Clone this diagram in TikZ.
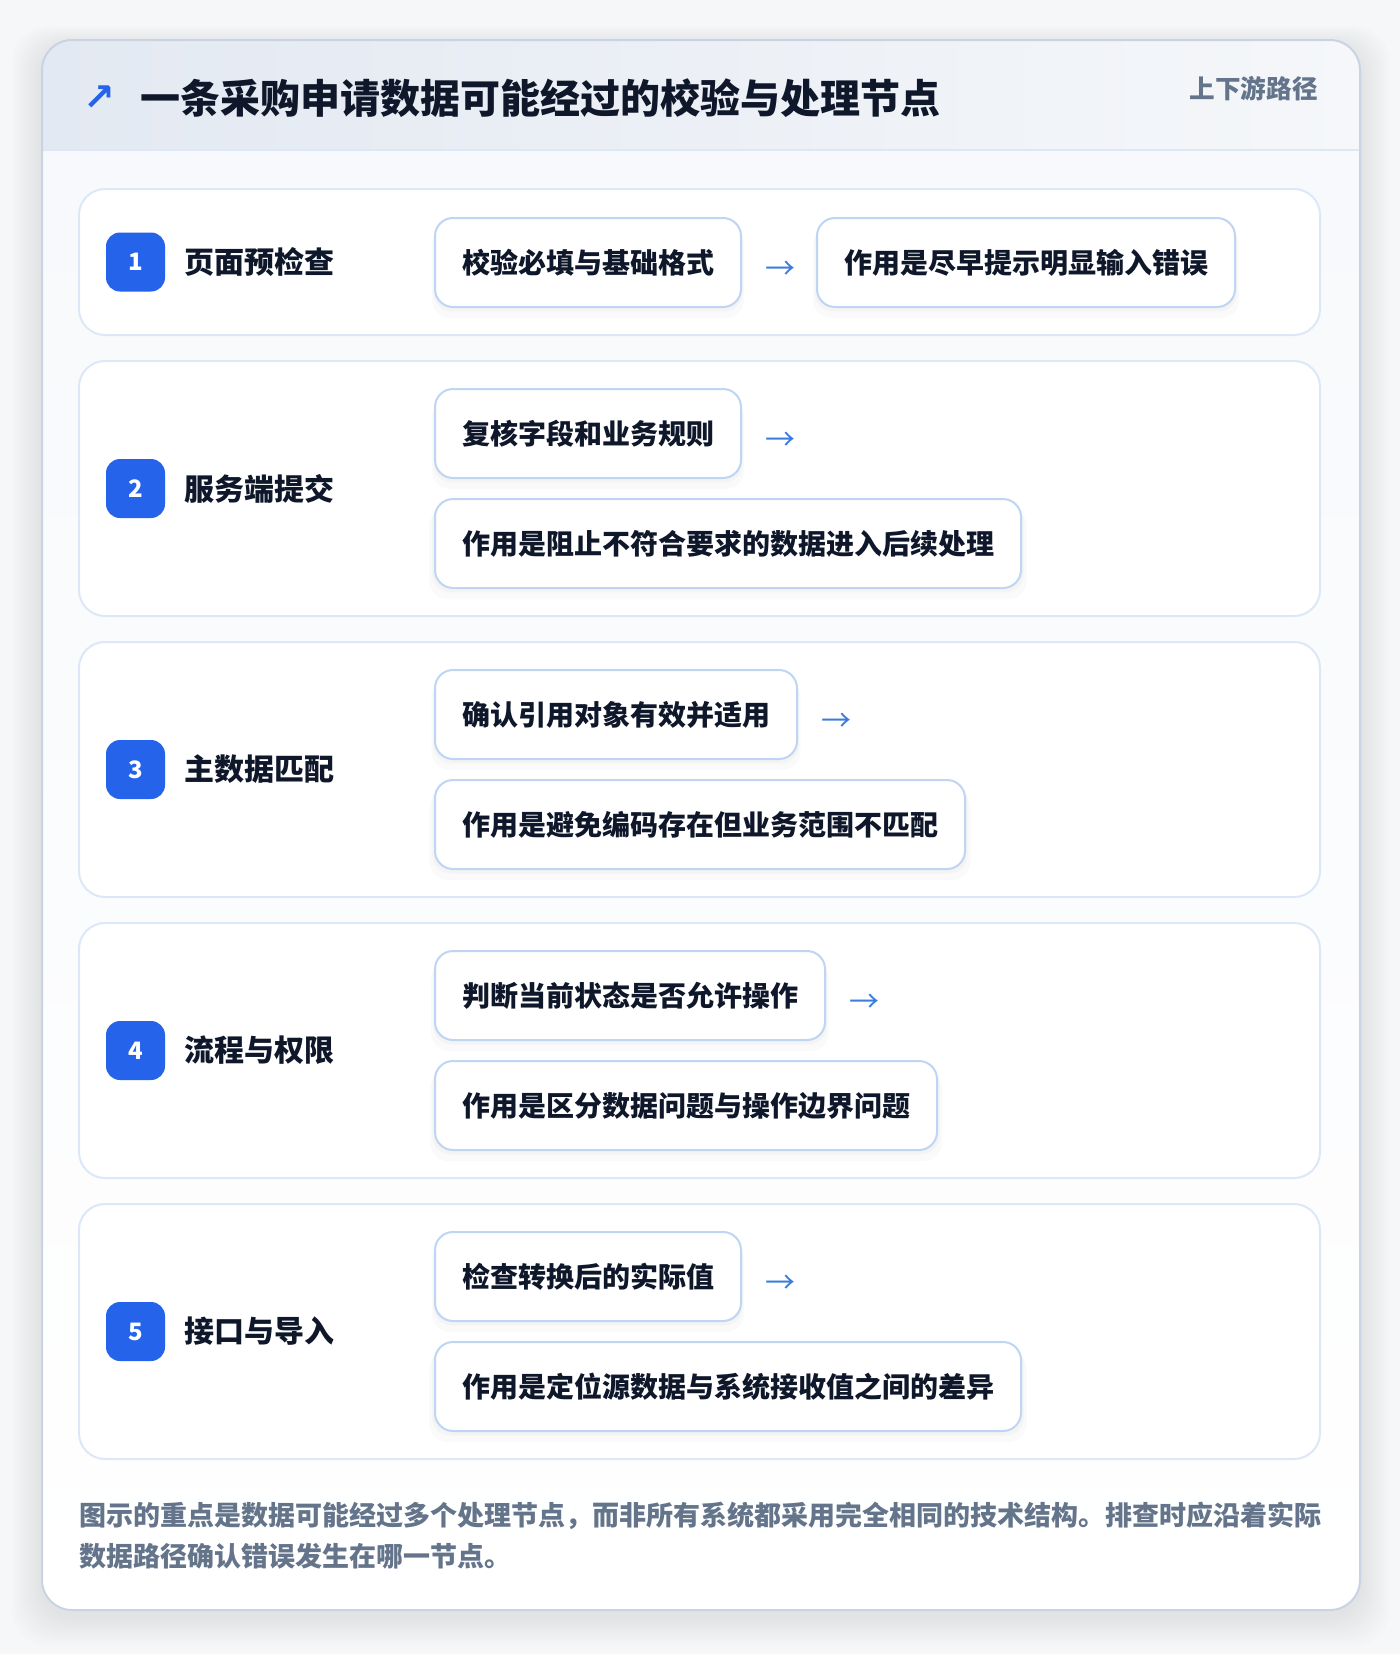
\documentclass[tikz,border=0pt]{standalone}
\usepackage{fontspec}
\setmainfont{Noto Sans CJK SC}
\newfontfamily\symfont{DejaVu Sans}
\usetikzlibrary{positioning,shadows}

\definecolor{pagebg}{HTML}{F6F7F9}
\definecolor{cardline}{HTML}{C9D4E3}
\definecolor{hdrleft}{HTML}{E3E9F2}
\definecolor{hdrright}{HTML}{F5F7FA}
\definecolor{hdrsep}{HTML}{DCE8F7}
\definecolor{bodytop}{HTML}{F7F9FC}
\definecolor{panelline}{HTML}{DCE8F8}
\definecolor{boxline}{HTML}{BED5F3}
\definecolor{badgeblue}{HTML}{2563EB}
\definecolor{ink}{HTML}{0F172A}
\definecolor{muted}{HTML}{64748B}
\definecolor{arrowblue}{HTML}{3B7DDD}

\tikzset{
	rowpanel/.style={draw=panelline, line width=1pt, fill=white, rounded corners=13pt},
	stepbadge/.style={fill=badgeblue, text=white, rounded corners=7pt, minimum size=29.5pt, inner sep=0pt, font=\fontsize{12}{14}\selectfont\bfseries},
	steplabel/.style={inner sep=0pt, text=ink, font=\fontsize{15}{18}\selectfont\bfseries},
	checkbox/.style={draw=boxline, line width=1pt, fill=white, rounded corners=9pt, minimum height=44.5pt, inner xsep=13.5pt, inner ysep=0pt, text=ink, font=\fontsize{14}{17}\selectfont\bfseries,
		drop shadow={shadow xshift=0pt, shadow yshift=-2pt, shadow scale=1.01, opacity=.025, fill=black},
		drop shadow={shadow xshift=0pt, shadow yshift=-5pt, shadow scale=1.02, opacity=.018, fill=black}},
	flowarrow/.style={inner sep=0pt, text=arrowblue, font=\fontsize{15}{17}\selectfont},
}

\begin{document}
\begin{tikzpicture}[x=0.5pt, y=-0.5pt]
	\path[use as bounding box, fill=pagebg] (0,0) rectangle (1400,1654);
	% soft shadow under the card
	\foreach \i in {1,...,10}
		\fill[black, opacity=0.008, rounded corners=18pt] (42-3*\i,46-2*\i) rectangle (1360+3*\i,1616+3*\i);
	\begin{scope}
		\clip[rounded corners=15pt] (42,40) rectangle (1360,1610);
		\fill[top color=bodytop, bottom color=white] (42,150) rectangle (1360,1610);
		\fill[left color=hdrleft, right color=hdrright] (42,40) rectangle (1360,150);
	\end{scope}
	\draw[hdrsep, line width=1pt] (42,150) -- (1360,150);
	\draw[cardline, line width=1pt, rounded corners=15pt] (42,40) rectangle (1360,1610);

	% header
	\node[anchor=west, inner sep=0pt, text=ink, font=\fontsize{20}{24}\selectfont\bfseries] (title) at (140,98) {一条采购申请数据可能经过的校验与处理节点};
	\node[left=12pt of title, inner sep=0pt, text=badgeblue, font=\symfont\fontsize{19}{21}\selectfont\bfseries] (icon) {↗};
	\node[anchor=east, inner sep=0pt, text=muted, font=\fontsize{12.8}{15}\selectfont\bfseries] (tag) at (1318,89) {上下游路径};

	% row 1
	\draw[rowpanel] (79,189) rectangle (1320,335);
	\node[stepbadge] (b1) at (135.5,262) {1};
	\node[steplabel, right=9.5pt of b1] (l1) {页面预检查};
	\node[checkbox, anchor=north west] (c1) at (434,217) {校验必填与基础格式};
	\node[flowarrow, right=11.5pt of c1, yshift=-4pt] (a1) {→};
	\node[checkbox, anchor=north west] (e1) at (816,217) {作用是尽早提示明显输入错误};

	% row 2
	\draw[rowpanel] (79,361) rectangle (1320,616);
	\node[stepbadge] (b2) at (135.5,488.5) {2};
	\node[steplabel, right=9.5pt of b2] (l2) {服务端提交};
	\node[checkbox, anchor=north west] (c2) at (434,388) {复核字段和业务规则};
	\node[flowarrow, right=11.5pt of c2, yshift=-4pt] (a2) {→};
	\node[checkbox, anchor=north west] (e2) at (434,498) {作用是阻止不符合要求的数据进入后续处理};

	% row 3
	\draw[rowpanel] (79,642) rectangle (1320,897);
	\node[stepbadge] (b3) at (135.5,769.5) {3};
	\node[steplabel, right=9.5pt of b3] (l3) {主数据匹配};
	\node[checkbox, anchor=north west] (c3) at (434,669) {确认引用对象有效并适用};
	\node[flowarrow, right=11.5pt of c3, yshift=-4pt] (a3) {→};
	\node[checkbox, anchor=north west] (e3) at (434,779) {作用是避免编码存在但业务范围不匹配};

	% row 4
	\draw[rowpanel] (79,923) rectangle (1320,1178);
	\node[stepbadge] (b4) at (135.5,1050.5) {4};
	\node[steplabel, right=9.5pt of b4] (l4) {流程与权限};
	\node[checkbox, anchor=north west] (c4) at (434,950) {判断当前状态是否允许操作};
	\node[flowarrow, right=11.5pt of c4, yshift=-4pt] (a4) {→};
	\node[checkbox, anchor=north west] (e4) at (434,1060) {作用是区分数据问题与操作边界问题};

	% row 5
	\draw[rowpanel] (79,1204) rectangle (1320,1459);
	\node[stepbadge] (b5) at (135.5,1331.5) {5};
	\node[steplabel, right=9.5pt of b5] (l5) {接口与导入};
	\node[checkbox, anchor=north west] (c5) at (434,1231) {检查转换后的实际值};
	\node[flowarrow, right=11.5pt of c5, yshift=-4pt] (a5) {→};
	\node[checkbox, anchor=north west] (e5) at (434,1341) {作用是定位源数据与系统接收值之间的差异};

	% footnote
	\node[anchor=north west, inner sep=0pt, align=left, text=muted, font=\fontsize{13.5}{20.5}\selectfont\bfseries] (note) at (79,1502) {图示的重点是数据可能经过多个处理节点，而非所有系统都采用完全相同的技术结构。排查时应沿着实际\\数据路径确认错误发生在哪一节点。};
\end{tikzpicture}
\end{document}
